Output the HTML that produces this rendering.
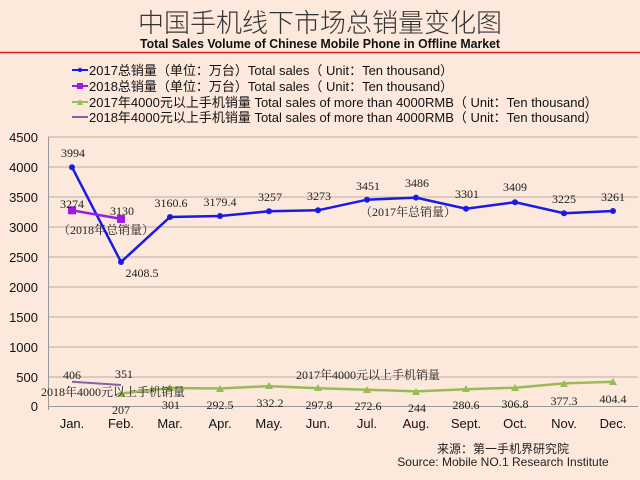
<!DOCTYPE html>
<html><head><meta charset="utf-8"><style>
html,body{margin:0;padding:0;background:#fce9dc;}
svg{display:block}
text{font-family:"Liberation Sans","Noto Sans CJK SC",sans-serif;}
.s{font-family:"Liberation Serif","Noto Serif CJK SC",serif;font-size:12px;fill:#222}
</style></head><body>
<svg width="640" height="480" viewBox="0 0 640 480" xmlns="http://www.w3.org/2000/svg">
<rect width="640" height="480" fill="#fce9dc"/>
<text x="320" y="32" text-anchor="middle" font-size="26" fill="#333" font-family="Noto Sans CJK SC,sans-serif" font-weight="300">中国手机线下市场总销量变化图</text>
<text x="320" y="48" text-anchor="middle" font-size="12.5" fill="#111" font-weight="bold" textLength="360" lengthAdjust="spacingAndGlyphs">Total Sales Volume of Chinese Mobile Phone in Offline Market</text>
<line x1="0" y1="52.5" x2="640" y2="52.5" stroke="#e02020" stroke-width="1.5"/>
<g font-size="13" fill="#111">
<line x1="72" y1="70" x2="88" y2="70" stroke="#1a1ae6" stroke-width="2"/><circle cx="80" cy="70" r="2.2" fill="#1a1ae6"/>
<text x="89" y="75">2017总销量（单位：万台）Total sales（ Unit：Ten thousand）</text>
<line x1="72" y1="86" x2="88" y2="86" stroke="#9b1ae6" stroke-width="2"/><rect x="77" y="83" width="6" height="6" fill="#9b1ae6"/>
<text x="89" y="91">2018总销量（单位：万台）Total sales（ Unit：Ten thousand）</text>
<line x1="72" y1="102" x2="88" y2="102" stroke="#9bbb59" stroke-width="2"/><path d="M77 105 L80 99 L83 105Z" fill="#9bbb59"/>
<text x="89" y="107">2017年4000元以上手机销量 Total sales of more than 4000RMB（ Unit：Ten thousand）</text>
<line x1="72" y1="117" x2="88" y2="117" stroke="#8064a2" stroke-width="2"/>
<text x="89" y="122">2018年4000元以上手机销量 Total sales of more than 4000RMB（ Unit：Ten thousand）</text>
</g>
<g stroke="#b8aca4" stroke-width="1">
<line x1="48" y1="137" x2="638" y2="137"/><line x1="48" y1="167" x2="638" y2="167"/><line x1="48" y1="197" x2="638" y2="197"/><line x1="48" y1="227" x2="638" y2="227"/><line x1="48" y1="257" x2="638" y2="257"/><line x1="48" y1="287" x2="638" y2="287"/><line x1="48" y1="317" x2="638" y2="317"/><line x1="48" y1="347" x2="638" y2="347"/><line x1="48" y1="377" x2="638" y2="377"/>
<line x1="48" y1="406.5" x2="638" y2="406.5" stroke="#999"/>
<line x1="48.5" y1="137" x2="48.5" y2="410" stroke="#999"/>
</g>
<g font-size="13" fill="#111" text-anchor="end">
<text x="38" y="142">4500</text><text x="38" y="172">4000</text><text x="38" y="202">3500</text><text x="38" y="232">3000</text><text x="38" y="262">2500</text><text x="38" y="292">2000</text><text x="38" y="322">1500</text><text x="38" y="352">1000</text><text x="38" y="382">500</text><text x="38" y="411">0</text>
</g>
<g font-size="13" fill="#111" text-anchor="middle">
<text x="72" y="428">Jan.</text><text x="121" y="428">Feb.</text><text x="170" y="428">Mar.</text><text x="220" y="428">Apr.</text><text x="269" y="428">May.</text><text x="318" y="428">Jun.</text><text x="367" y="428">Jul.</text><text x="416" y="428">Aug.</text><text x="466" y="428">Sept.</text><text x="515" y="428">Oct.</text><text x="564" y="428">Nov.</text><text x="613" y="428">Dec.</text>
</g>
<polyline fill="none" stroke="#9bbb59" stroke-width="2.5" points="121,393.6 170,388 220,388.5 269,386.1 318,388.2 367,389.7 416,391.4 466,389.2 515,387.7 564,383.4 613,381.8"/>
<g fill="#9bbb59">
<path d="M117,397 l4,-7 l4,7z M166,391 l4,-7 l4,7z M216,392 l4,-7 l4,7z M265,389 l4,-7 l4,7z M314,391 l4,-7 l4,7z M363,393 l4,-7 l4,7z M412,395 l4,-7 l4,7z M462,392 l4,-7 l4,7z M511,391 l4,-7 l4,7z M560,387 l4,-7 l4,7z M609,385 l4,-7 l4,7z"/>
</g>
<polyline fill="none" stroke="#8064a2" stroke-width="2" points="72,381.7 121,385"/>
<polyline fill="none" stroke="#1a1ae6" stroke-width="2.5" points="72,167.2 121,262 170,217 220,216 269,211.3 318,210.3 367,199.7 416,197.6 466,208.7 515,202.2 564,213.2 613,211"/>
<g fill="#1a1ae6">
<circle cx="72" cy="167.2" r="3"/><circle cx="121" cy="262" r="3"/><circle cx="170" cy="217" r="3"/><circle cx="220" cy="216" r="3"/><circle cx="269" cy="211.3" r="3"/><circle cx="318" cy="210.3" r="3"/><circle cx="367" cy="199.7" r="3"/><circle cx="416" cy="197.6" r="3"/><circle cx="466" cy="208.7" r="3"/><circle cx="515" cy="202.2" r="3"/><circle cx="564" cy="213.2" r="3"/><circle cx="613" cy="211" r="3"/>
</g>
<polyline fill="none" stroke="#9b1ae6" stroke-width="2.5" points="72,210.3 121,218.9"/>
<rect x="68" y="206.3" width="8" height="8" fill="#9b1ae6"/><rect x="117" y="214.9" width="8" height="8" fill="#9b1ae6"/>
<g text-anchor="middle">
<text x="73" y="157" class="s">3994</text><text x="142" y="277" class="s">2408.5</text><text x="171" y="207" class="s">3160.6</text><text x="220" y="206" class="s">3179.4</text><text x="270" y="201" class="s">3257</text><text x="319" y="200" class="s">3273</text><text x="368" y="190" class="s">3451</text><text x="417" y="187" class="s">3486</text><text x="467" y="198" class="s">3301</text><text x="515" y="191" class="s">3409</text><text x="564" y="203" class="s">3225</text><text x="613" y="201" class="s">3261</text>
<text x="72" y="208" class="s">3274</text><text x="122" y="215" class="s">3130</text>
<text x="106" y="234" class="s">（2018年总销量）</text>
<text x="408" y="216" class="s">（2017年总销量）</text>
<text x="72" y="379" class="s">406</text><text x="124" y="378" class="s">351</text>
<text x="113" y="396" class="s">2018年4000元以上手机销量</text>
<text x="368" y="379" class="s">2017年4000元以上手机销量</text>
<text x="121" y="414" class="s">207</text><text x="171" y="409" class="s">301</text><text x="220" y="409" class="s">292.5</text><text x="270" y="407" class="s">332.2</text><text x="319" y="409" class="s">297.8</text><text x="368" y="410" class="s">272.6</text><text x="417" y="412" class="s">244</text><text x="466" y="409" class="s">280.6</text><text x="515" y="408" class="s">306.8</text><text x="564" y="405" class="s">377.3</text><text x="613" y="403" class="s">404.4</text>
</g>
<text x="503" y="453" text-anchor="middle" font-size="12" fill="#222">来源：第一手机界研究院</text>
<text x="503" y="466" text-anchor="middle" font-size="12" fill="#222">Source: Mobile NO.1 Research Institute</text>
</svg>
</body></html>
